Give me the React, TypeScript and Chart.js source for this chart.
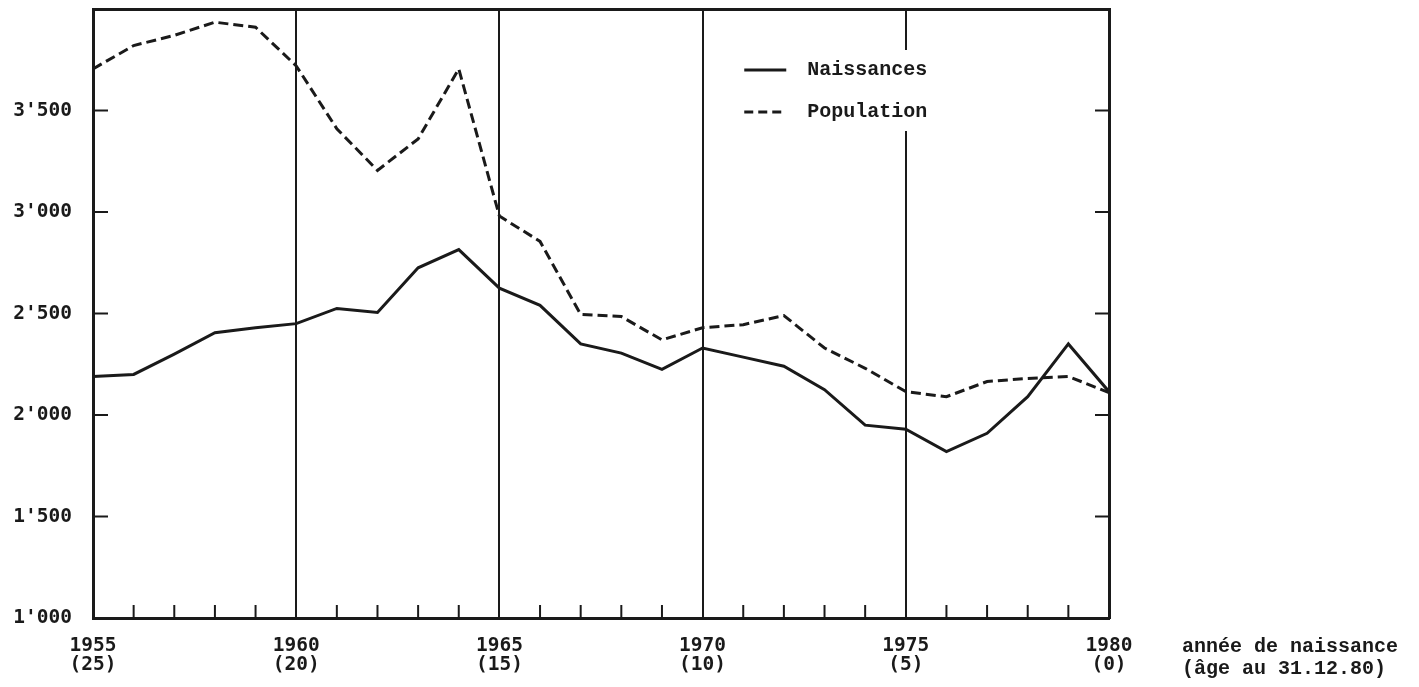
import React, { useEffect, useRef } from 'react';
import { Chart, registerables } from 'chart.js';

Chart.register(...registerables);

const years = [1955, 1956, 1957, 1958, 1959, 1960, 1961, 1962, 1963, 1964, 1965, 1966, 1967, 1968, 1969, 1970, 1971, 1972, 1973, 1974, 1975, 1976, 1977, 1978, 1979, 1980];
const naissances = [2190, 2200, 2300, 2405, 2430, 2450, 2525, 2505, 2725, 2815, 2625, 2540, 2350, 2305, 2225, 2330, 2285, 2240, 2125, 1950, 1930, 1820, 1910, 2090, 2350, 2115];
const population = [3705, 3820, 3870, 3935, 3910, 3720, 3410, 3205, 3360, 3705, 2980, 2855, 2495, 2485, 2370, 2430, 2445, 2490, 2330, 2230, 2115, 2090, 2165, 2180, 2190, 2110];

const yTickValues = [1000, 1500, 2000, 2500, 3000, 3500];
const yTickLabels = ["1'000", "1'500", "2'000", "2'500", "3'000", "3'500"];
const xLabelYears = [1955, 1960, 1965, 1970, 1975, 1980];
const xYearLabels = ['1955', '1960', '1965', '1970', '1975', '1980'];
const xAgeLabels = ['(25)', '(20)', '(15)', '(10)', '(5)', '(0)'];
const legendLabels = ['Naissances', 'Population'];
const axisCaption = ['année de naissance', '(âge au 31.12.80)'];

const INK = '#1a1a1a';
const MONO_SANS = '"DejaVu Sans Mono", monospace';
const MONO_SERIF = '"Liberation Mono", "Courier New", monospace';

const decorPlugin = {
  id: 'decor',
  afterDraw(chart: any) {
    const { ctx, chartArea: a, scales } = chart;
    const x = scales.x;
    const y = scales.y;
    ctx.save();
    ctx.strokeStyle = INK;
    ctx.lineWidth = 2;
    ctx.setLineDash([]);
    // inward ticks on bottom axis
    years.forEach((v) => {
      if (xLabelYears.includes(v)) return;
      const px = x.getPixelForValue(v);
      ctx.beginPath();
      ctx.moveTo(px, a.bottom);
      ctx.lineTo(px, a.bottom - 13);
      ctx.stroke();
    });
    // inward ticks on left and right axes
    yTickValues.slice(1).forEach((v) => {
      const py = y.getPixelForValue(v);
      ctx.beginPath();
      ctx.moveTo(a.left, py);
      ctx.lineTo(a.left + 15, py);
      ctx.moveTo(a.right - 14, py);
      ctx.lineTo(a.right, py);
      ctx.stroke();
    });
    // legend
    const lx = a.left + a.width * 0.641;
    ctx.fillStyle = '#ffffff';
    ctx.fillRect(lx - 6, a.top + 41, 200, 81);
    const rows = [a.top + 61, a.top + 103];
    ctx.lineWidth = 3;
    ctx.beginPath();
    ctx.moveTo(lx, rows[0]);
    ctx.lineTo(lx + 42, rows[0]);
    ctx.stroke();
    ctx.setLineDash([9, 5]);
    ctx.beginPath();
    ctx.moveTo(lx, rows[1]);
    ctx.lineTo(lx + 42, rows[1]);
    ctx.stroke();
    ctx.setLineDash([]);
    ctx.fillStyle = INK;
    ctx.font = `bold 20px ${MONO_SERIF}`;
    ctx.textAlign = 'left';
    ctx.textBaseline = 'middle';
    ctx.fillText(legendLabels[0], lx + 63, rows[0]);
    ctx.fillText(legendLabels[1], lx + 63, rows[1]);
    // axis caption
    ctx.fillText(axisCaption[0], a.right + 73, a.bottom + 29);
    ctx.fillText(axisCaption[1], a.right + 73, a.bottom + 51);
    ctx.restore();
  },
};

const zeroPad = (s: any) => {
  s.paddingTop = 0;
  s.paddingBottom = 0;
  s.paddingLeft = 0;
  s.paddingRight = 0;
};

export default function App() {
  const canvasRef = useRef<HTMLCanvasElement | null>(null);

  useEffect(() => {
    if (!canvasRef.current) return;
    const chart = new Chart(canvasRef.current, {
      type: 'line',
      data: {
        datasets: [
          {
            label: legendLabels[0],
            data: years.map((yr, i) => ({ x: yr, y: naissances[i] })),
            borderColor: INK,
            borderWidth: 3,
            pointRadius: 0,
            tension: 0,
            fill: false,
          },
          {
            label: legendLabels[1],
            data: years.map((yr, i) => ({ x: yr, y: population[i] })),
            borderColor: INK,
            borderWidth: 3,
            borderDash: [10, 5],
            pointRadius: 0,
            tension: 0,
            fill: false,
          },
        ],
      },
      options: {
        responsive: false,
        animation: false,
        devicePixelRatio: 1,
        layout: { padding: { left: 0, top: 9, right: 310, bottom: 0 } },
        plugins: {
          legend: { display: false },
          tooltip: { enabled: false },
        },
        scales: {
          x: {
            type: 'linear',
            position: 'bottom',
            min: 1955,
            max: 1980,
            afterFit: (s: any) => {
              s.height = 69;
              zeroPad(s);
            },
            ticks: {
              stepSize: 1,
              autoSkip: false,
              maxRotation: 0,
              padding: 18,
              color: INK,
              font: { family: MONO_SANS, size: 19.5, weight: 'bold', lineHeight: 1.0 },
              callback: (v: any) => {
                const i = xLabelYears.indexOf(Number(v));
                return i >= 0 ? [xYearLabels[i], xAgeLabels[i]] : '';
              },
            },
            grid: {
              display: true,
              drawTicks: false,
              lineWidth: 2,
              color: (c: any) =>
                c.tick && xLabelYears.includes(c.tick.value) ? INK : 'rgba(0,0,0,0)',
            },
            border: { display: true, color: INK, width: 3 },
          },
          x2: {
            type: 'linear',
            position: 'top',
            min: 1955,
            max: 1980,
            afterFit: (s: any) => {
              s.height = 0;
              zeroPad(s);
            },
            ticks: { display: false },
            grid: { display: false, drawTicks: false },
            border: { display: true, color: INK, width: 3 },
          },
          y: {
            type: 'linear',
            position: 'left',
            min: 1000,
            max: 4000,
            afterFit: (s: any) => {
              s.width = 93;
              zeroPad(s);
            },
            ticks: {
              stepSize: 500,
              padding: 21,
              color: INK,
              font: { family: MONO_SANS, size: 19.5, weight: 'bold' },
              callback: (v: any) => {
                const i = yTickValues.indexOf(Number(v));
                return i >= 0 ? yTickLabels[i] : '';
              },
            },
            grid: { display: false, drawTicks: false },
            border: { display: true, color: INK, width: 3 },
          },
          y2: {
            type: 'linear',
            position: 'right',
            min: 1000,
            max: 4000,
            afterFit: (s: any) => {
              s.width = 0;
              zeroPad(s);
            },
            ticks: { display: false },
            grid: { display: false, drawTicks: false },
            border: { display: true, color: INK, width: 3 },
          },
        },
      },
      plugins: [decorPlugin],
    } as any);
    return () => chart.destroy();
  }, []);

  return (
    <div style={{ position: 'absolute', left: 0, top: 0, width: 1419, height: 687, background: '#ffffff' }}>
      <canvas ref={canvasRef} width={1419} height={687} style={{ display: 'block' }} />
    </div>
  );
}
